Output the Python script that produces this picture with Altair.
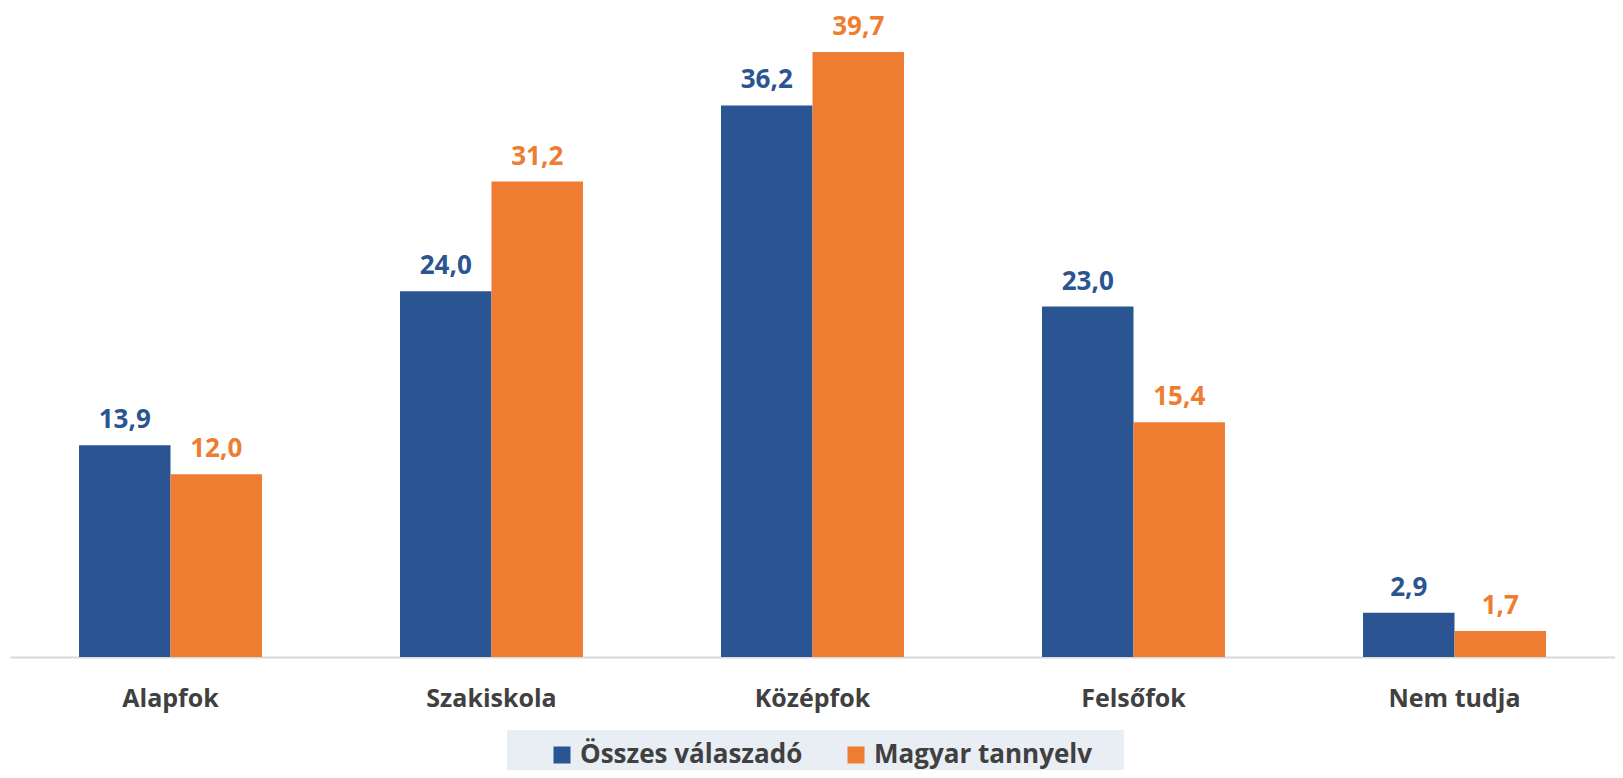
import altair as alt
import pandas as pd

categories = ["Alapfok", "Szakiskola", "Középfok", "Felsőfok", "Nem tudja"]
series = ["Összes válaszadó", "Magyar tannyelv"]
osszes = [13.9, 24.0, 36.2, 23.0, 2.9]
magyar = [12.0, 31.2, 39.7, 15.4, 1.7]
colors = ["#2B5592", "#EE7D31"]

rows = []
for c, a, b in zip(categories, osszes, magyar):
    rows.append({"cat": c, "series": series[0], "value": a, "label": f"{a:.1f}".replace(".", ",")})
    rows.append({"cat": c, "series": series[1], "value": b, "label": f"{b:.1f}".replace(".", ",")})
df = pd.DataFrame(rows)

FONT = "Open Sans"

x_enc = alt.X("cat:N", sort=categories, title=None,
              scale=alt.Scale(paddingInner=0.43, paddingOuter=0.215),
              axis=alt.Axis(labelAngle=0, labelFont=FONT, labelFontSize=25, labelFontWeight="bold",
                            labelColor="#404040", labelPadding=29, ticks=False,
                            domainColor="#D9D9D9", domainWidth=2))
xoff = alt.XOffset("series:N", sort=series, scale=alt.Scale(paddingInner=0, paddingOuter=0))
y_enc = alt.Y("value:Q", scale=alt.Scale(domain=[0, 42], nice=False), axis=None)
col_scale = alt.Scale(domain=series, range=colors)

bg = alt.Chart(alt.Data(values=[{"a": 1}])).mark_rect(color="#E9EDF4").encode(
    x=alt.value(497), x2=alt.value(1114), y=alt.value(713), y2=alt.value(770)
)

bars = alt.Chart(df).mark_bar().encode(
    x=x_enc, xOffset=xoff, y=y_enc,
    color=alt.Color("series:N", sort=series, scale=col_scale,
                    legend=alt.Legend(orient="none", legendX=539, legendY=725, direction="horizontal",
                                      title=None, symbolType="square", symbolSize=289,
                                      symbolStrokeWidth=0, labelFont=FONT, labelFontSize=26,
                                      labelFontWeight="bold", labelColor="#404040",
                                      labelOffset=5, columnPadding=40, padding=0,
                                      labelLimit=400))
)

texts = alt.Chart(df).mark_text(baseline="alphabetic", dy=-17, font=FONT, fontSize=26,
                                fontWeight="bold").encode(
    x=x_enc, xOffset=xoff, y=y_enc, text="label:N",
    color=alt.Color("series:N", sort=series, scale=col_scale, legend=None)
)

chart = alt.layer(bg, bars, texts).properties(
    width=1605, height=640,
    autosize=alt.AutoSizeParams(type="none"),
    padding={"left": 2, "top": 9, "right": 0, "bottom": 113},
).configure_view(stroke=None)

chart.save("out.html", embed_options={"renderer": "svg", "actions": False})
